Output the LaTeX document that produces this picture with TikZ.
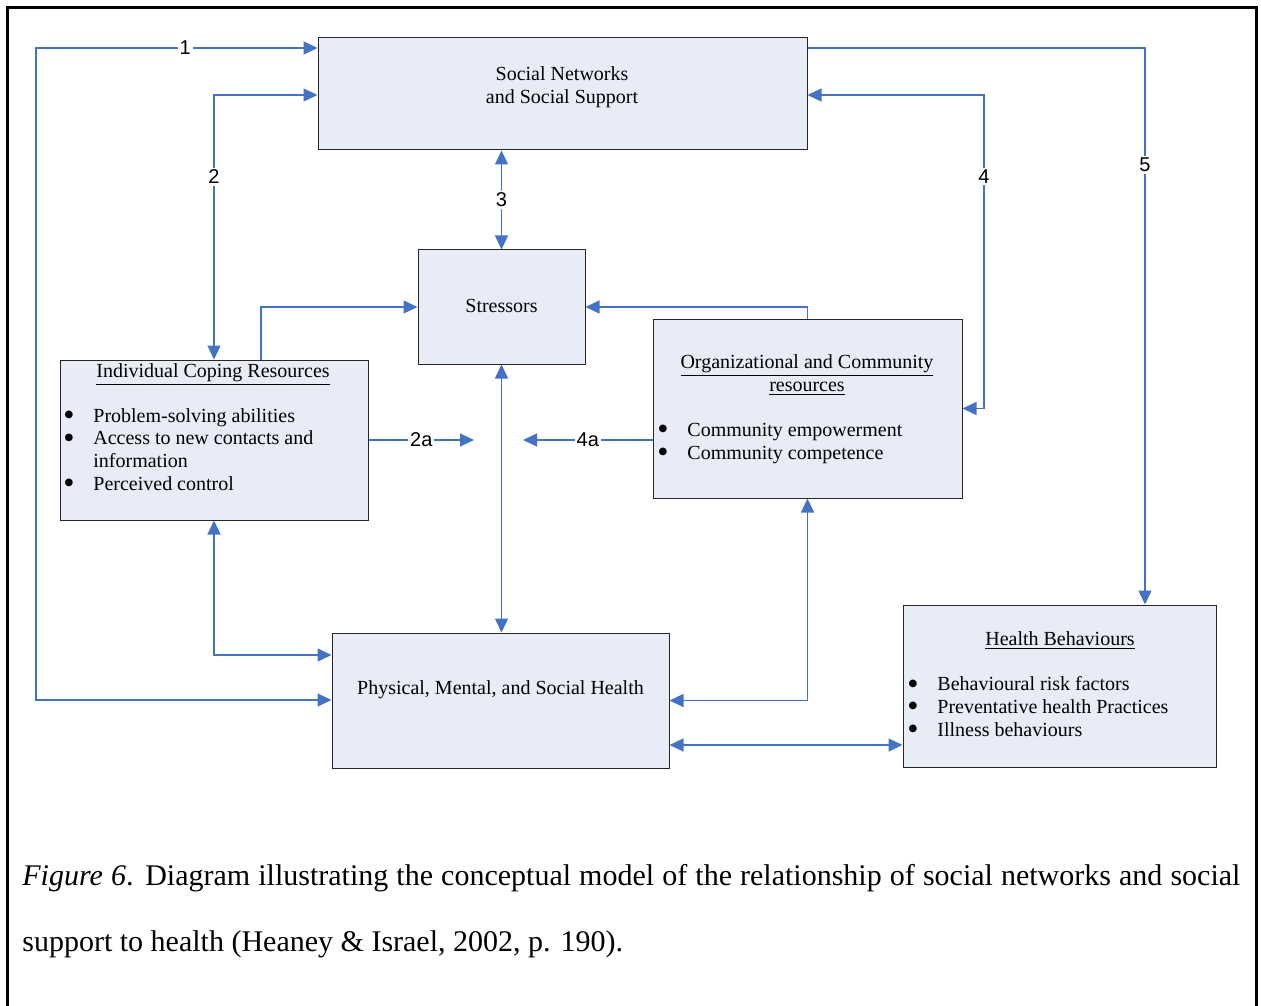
\documentclass[tikz,border=0pt]{standalone}
\usepackage{fontspec}
\setmainfont{Liberation Serif}
\newfontfamily\lblfont{Liberation Sans}
\usetikzlibrary{arrows.meta,positioning}
\definecolor{linkblue}{RGB}{68,114,196}
\definecolor{boxfill}{RGB}{232,236,247}
\newcommand{\bulletitem}{\makebox[15pt][l]{\smash{\raisebox{-0.35ex}{\scalebox{1.6}{\textbullet}}}}}

\begin{document}
\begin{tikzpicture}[x=0.5pt, y=-0.5pt,
  box/.style={draw=black!85, line width=0.5pt, fill=boxfill, rectangle, inner sep=0pt},
  txt/.style={font=\fontsize{10}{11.4}\selectfont, inner sep=0pt, align=center, anchor=base},
  lst/.style={font=\fontsize{10}{11.4}\selectfont, inner sep=0pt, align=left, anchor=base west},
  arr/.style={-{Triangle[length=7pt,width=6.5pt]}, line width=0.65pt, draw=linkblue},
  dbl/.style={{Triangle[length=7pt,width=6.5pt]}-{Triangle[length=7pt,width=6.5pt]}, line width=0.65pt, draw=linkblue},
  lbl/.style={font=\lblfont\fontsize{10}{12}\selectfont, fill=white, inner sep=1pt}
]
\useasboundingbox (0,0) rectangle (1261,1005);
\draw[line width=1.5pt] (7,1012) -- (7,8) -- (1256,8) -- (1256,1012);

% boxes (multi-line texts sit on their last baseline)
\node[box, minimum width=244.5pt, minimum height=56pt] (sn) at (562.5,94) {};
\node[txt] (snt) at (562,103.5) {Social Networks\\and Social Support};

\node[box, minimum width=83.5pt, minimum height=57pt] (st) at (501.5,307) {};
\node[txt] (stt) at (501.5,312.5) {Stressors};

\node[box, minimum width=154pt, minimum height=80pt] (ic) at (214,440) {};
\node[txt] (ict) at (213,377.5) {\underline{Individual Coping Resources}};
\node[lst] (icl) at (63,490.5) {\bulletitem Problem-solving abilities\\\bulletitem Access to new contacts and\\\makebox[15pt]{}information\\\bulletitem Perceived control};

\node[box, minimum width=154.5pt, minimum height=89.5pt] (oc) at (807.5,408.5) {};
\node[txt] (oct) at (807,391.5) {\underline{Organizational and Community}\\\underline{resources}};
\node[lst] (ocl) at (657,459.5) {\bulletitem Community empowerment\\\bulletitem Community competence};

\node[box, minimum width=168.5pt, minimum height=67.5pt] (ph) at (500.5,700.5) {};
\node[txt] (pht) at (500.5,694.5) {Physical, Mental, and Social Health};

\node[box, minimum width=156.5pt, minimum height=81pt] (hb) at (1059.5,686) {};
\node[txt] (hbt) at (1060,645.5) {\underline{Health Behaviours}};
\node[lst] (hbl) at (907,736.5) {\bulletitem Behavioural risk factors\\\bulletitem Preventative health Practices\\\bulletitem Illness behaviours};

% free ends of 2a / 4a
\coordinate (m2a) at (474,440);
\coordinate (m4a) at (523,440);

% connectors
\draw[dbl] (sn.west |- 0,48) -- node[lbl, pos=.47] (l1) {1} (36,48) -- (36,700) -- (ph.west |- 0,700);
\draw[dbl] (ic.north) -- node[lbl, pos=.69] (l2) {2} (ic.north |- 0,95) -- (sn.west |- 0,95);
\draw[dbl] (st.north |- sn.south) -- node[lbl] (l3) {3} (st.north);
\draw[dbl] (oc.east) -- (984,0 |- oc.east) -- node[lbl, pos=.74] (l4) {4} (984,95) -- (sn.east |- 0,95);
\draw[arr] (sn.east |- 0,48) -- (1145,48) -- node[lbl, pos=.21] (l5) {5} (1145,0 |- hb.north);
\draw[arr] (261,0 |- ic.north) -- (261,0 |- st.west) -- (st.west);
\draw[arr] (oc.north) -- (oc.north |- st.east) -- (st.east);
\draw[arr] (ic.east) -- node[lbl] (l2a) {2a} (m2a);
\draw[arr] (oc.west |- m4a) -- node[lbl] (l4a) {4a} (m4a);
\draw[dbl] (st.south) -- (st.south |- ph.north);
\draw[dbl] (ic.south) -- (ic.south |- 0,655) -- (ph.west |- 0,655);
\draw[dbl] (oc.south) -- (oc.south |- ph.east) -- (ph.east);
\draw[dbl] (ph.east |- 0,745) -- (hb.west |- 0,745);

% caption
\node[anchor=north west, text width=609pt, align=justify, inner sep=0pt, font=\fontsize{15}{33}\selectfont] (cap) at (22,863.5) {\textit{Figure 6}. Diagram illustrating the conceptual model of the relationship of social networks and social support to health (Heaney \& Israel, 2002, p. 190).};
\end{tikzpicture}
\end{document}
